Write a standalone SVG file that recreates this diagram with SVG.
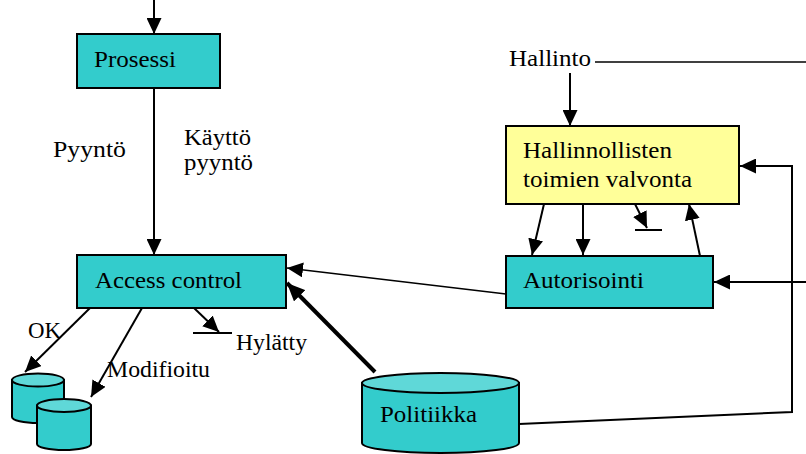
<svg xmlns="http://www.w3.org/2000/svg" width="806" height="454" viewBox="0 0 806 454">
  <defs>
    <marker id="arrow" markerUnits="userSpaceOnUse" markerWidth="16" markerHeight="15" viewBox="0 0 16 15" refX="16" refY="7.5" orient="auto">
      <path d="M0,0 L16,7.5 L0,15 Z" fill="#000"/>
    </marker>
    <marker id="arrowBig" markerUnits="userSpaceOnUse" markerWidth="18" markerHeight="16" viewBox="0 0 18 16" refX="18" refY="8" orient="auto">
      <path d="M0,0 L18,8 L0,16 Z" fill="#000"/>
    </marker>
  </defs>
  <style>
    .box { stroke: #000; stroke-width: 2; }
    .teal { fill: #33cccc; }
    .tealTop { fill: #5fd8d8; }
    .yellow { fill: #ffff99; }
    .cyl { stroke: #000; stroke-width: 2; }
    .lbl { font-family: "Liberation Serif", "Times New Roman", serif; font-size: 24px; fill: #000; }
    .small { font-size: 23px; }
    .conn { stroke: #000; stroke-width: 2; fill: none; }
    .thin { stroke: #000; stroke-width: 1.6; fill: none; }
    .thick { stroke: #000; stroke-width: 4; fill: none; }
  </style>
  <rect width="806" height="454" fill="#fff"/>

  <!-- connectors -->
  <g id="connectors">
    <line class="conn" x1="154" y1="0" x2="154" y2="34" marker-end="url(#arrow)"/>
    <line class="conn" x1="154" y1="88" x2="154" y2="255" marker-end="url(#arrow)"/>
    <line class="conn" x1="90" y1="308" x2="25" y2="372" marker-end="url(#arrow)"/>
    <line class="conn" x1="142" y1="308" x2="91" y2="397" marker-end="url(#arrow)"/>
    <line class="conn" x1="194" y1="308" x2="219" y2="332" marker-end="url(#arrow)"/>
    <line class="conn" x1="193" y1="333" x2="232" y2="333"/>
    <line class="thin" x1="506" y1="294" x2="287" y2="268" marker-end="url(#arrow)"/>
    <line class="thick" x1="375" y1="372" x2="287" y2="283" marker-end="url(#arrowBig)"/>
    <line class="thin" x1="595" y1="62" x2="806" y2="62"/>
    <line class="conn" x1="570" y1="73" x2="570" y2="126" marker-end="url(#arrow)"/>
    <line class="conn" x1="544" y1="204" x2="532" y2="255" marker-end="url(#arrow)"/>
    <line class="conn" x1="583" y1="204" x2="583" y2="255" marker-end="url(#arrow)"/>
    <line class="conn" x1="635" y1="204" x2="647" y2="228" marker-end="url(#arrow)"/>
    <line class="conn" x1="635" y1="230" x2="662" y2="230"/>
    <line class="conn" x1="700" y1="256" x2="689" y2="204" marker-end="url(#arrow)"/>
    <line class="conn" x1="806" y1="282" x2="714" y2="282" marker-end="url(#arrow)"/>
    <polyline class="conn" points="519,424 792,412 792,166 740,166" marker-end="url(#arrow)"/>
  </g>

  <g id="prosessi">
    <rect class="box teal" x="77" y="34" width="143" height="54"/>
    <text class="lbl" x="94" y="67" textLength="82" lengthAdjust="spacingAndGlyphs">Prosessi</text>
  </g>

  <g id="pyynto-labels">
    <text class="lbl" x="53" y="157" textLength="73" lengthAdjust="spacingAndGlyphs">Pyyntö</text>
    <text class="lbl small" x="184" y="145" textLength="67" lengthAdjust="spacingAndGlyphs">Käyttö</text>
    <text class="lbl small" x="184" y="170" textLength="69" lengthAdjust="spacingAndGlyphs">pyyntö</text>
  </g>

  <g id="access-control">
    <rect class="box teal" x="77" y="255" width="209" height="53"/>
    <text class="lbl" x="95" y="288" textLength="147" lengthAdjust="spacingAndGlyphs">Access control</text>
  </g>

  <g id="result-labels">
    <text class="lbl" x="28" y="338" textLength="33" lengthAdjust="spacingAndGlyphs">OK</text>
    <text class="lbl" x="107" y="377" textLength="103" lengthAdjust="spacingAndGlyphs">Modifioitu</text>
    <text class="lbl" x="236" y="350" textLength="71" lengthAdjust="spacingAndGlyphs">Hylätty</text>
  </g>

  <g id="store-ok">
    <path class="cyl teal" d="M12,380 L12,417 A26,6 0 0 0 64,417 L64,380 Z"/>
    <ellipse class="cyl tealTop" cx="38" cy="380" rx="26" ry="6.5"/>
  </g>

  <g id="store-modified">
    <path class="cyl teal" d="M37,405.5 L37,444 A27,6 0 0 0 91,444 L91,405.5 Z"/>
    <ellipse class="cyl tealTop" cx="64" cy="405.5" rx="27" ry="6.5"/>
  </g>

  <g id="politiikka">
    <path class="cyl teal" d="M362,383 L362,443 A78.5,10 0 0 0 519,443 L519,383 Z"/>
    <ellipse class="cyl tealTop" cx="440.5" cy="383" rx="78.5" ry="10"/>
    <text class="lbl" x="380" y="422" textLength="97" lengthAdjust="spacingAndGlyphs">Politiikka</text>
  </g>

  <g id="hallinto">
    <text class="lbl" x="509" y="66" textLength="82" lengthAdjust="spacingAndGlyphs">Hallinto</text>
  </g>

  <g id="valvonta">
    <rect class="box yellow" x="506" y="126" width="233" height="78"/>
    <text class="lbl" x="523" y="158" textLength="149" lengthAdjust="spacingAndGlyphs">Hallinnollisten</text>
    <text class="lbl" x="523" y="187" textLength="169" lengthAdjust="spacingAndGlyphs">toimien valvonta</text>
  </g>

  <g id="autorisointi">
    <rect class="box teal" x="506" y="256" width="207" height="52"/>
    <text class="lbl" x="523" y="288" textLength="121" lengthAdjust="spacingAndGlyphs">Autorisointi</text>
  </g>
</svg>
